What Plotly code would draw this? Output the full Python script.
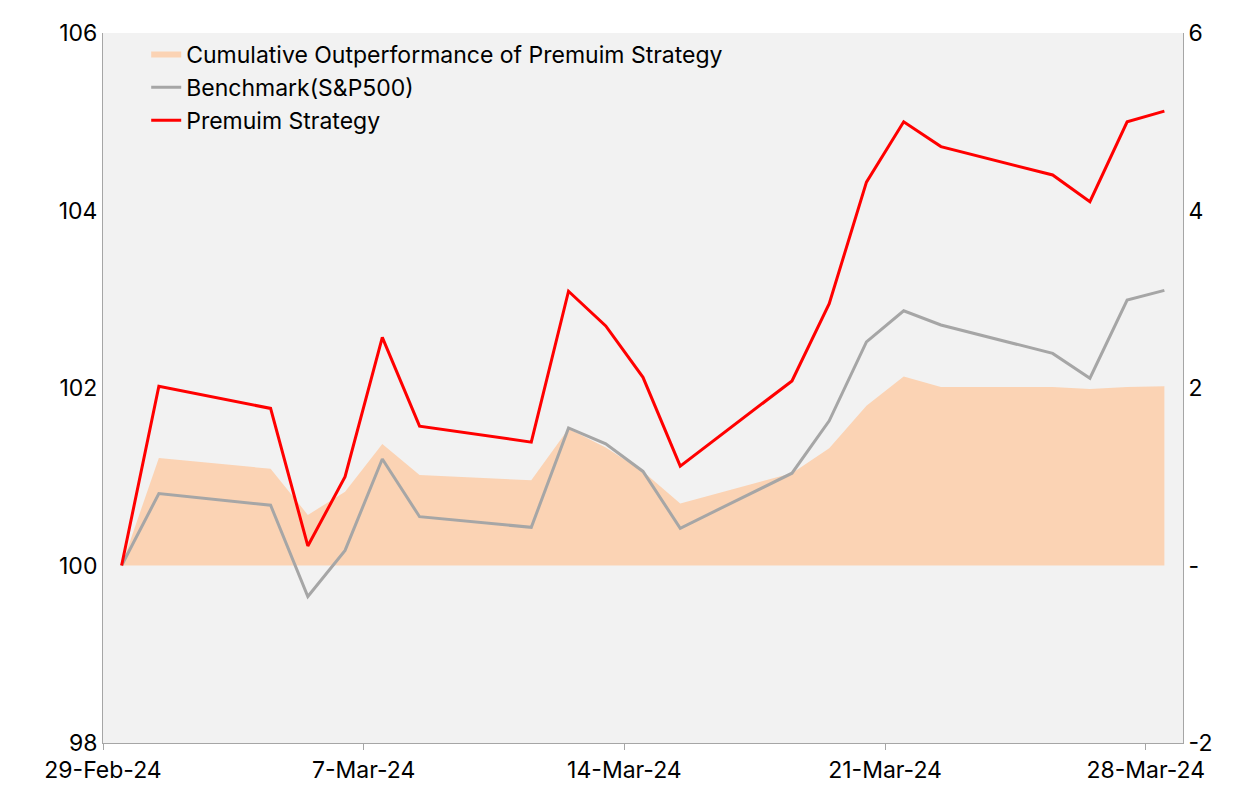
import plotly.graph_objs as go

dates = ['2024-02-29', '2024-03-01', '2024-03-04', '2024-03-05', '2024-03-06',
         '2024-03-07', '2024-03-08', '2024-03-11', '2024-03-12', '2024-03-13',
         '2024-03-14', '2024-03-15', '2024-03-18', '2024-03-19', '2024-03-20',
         '2024-03-21', '2024-03-22', '2024-03-25', '2024-03-26', '2024-03-27',
         '2024-03-28']
premium = [100.0, 102.02, 101.77, 100.22, 101.0, 102.57, 101.57, 101.39, 103.09, 102.70,
           102.12, 101.12, 102.08, 102.95, 104.32, 105.0, 104.72, 104.40, 104.10, 105.0, 105.12]
benchmark = [100.0, 100.81, 100.68, 99.65, 100.17, 101.2, 100.55, 100.43, 101.55, 101.37,
             101.06, 100.42, 101.04, 101.63, 102.52, 102.87, 102.71, 102.39, 102.11, 102.99, 103.10]
outperf = [0.0, 1.21, 1.09, 0.57, 0.83, 1.37, 1.02, 0.96, 1.54, 1.33,
           1.06, 0.70, 1.04, 1.32, 1.80, 2.13, 2.01, 2.01, 1.99, 2.01, 2.02]

tick_dates = ['2024-02-29', '2024-03-07', '2024-03-14', '2024-03-21', '2024-03-28']
tick_text = ['29-Feb-24', '7-Mar-24', '14-Mar-24', '21-Mar-24', '28-Mar-24']

# Excel date axis puts points mid-day
x = [d + ' 12:00' for d in dates]

fig = go.Figure()
# area on the base (right) axis so the lines on the overlaying axis sit on top
fig.add_trace(go.Scatter(x=x, y=outperf, yaxis='y', mode='none', fill='tozeroy',
                         fillcolor='#fbd3b4', name='Cumulative Outperformance of Premuim Strategy'))
fig.add_trace(go.Scatter(x=x, y=benchmark, yaxis='y2', mode='lines',
                         line=dict(color='#a6a6a6', width=3), name='Benchmark(S&P500)'))
fig.add_trace(go.Scatter(x=x, y=premium, yaxis='y2', mode='lines',
                         line=dict(color='#ff0000', width=3), name='Premuim Strategy'))

fig.update_layout(
    width=1251, height=804,
    margin=dict(l=95, r=76, t=25, b=69),
    paper_bgcolor='white', plot_bgcolor='#f2f2f2',
    font=dict(family='Inter', size=23, color='black'),
    showlegend=True,
    legend=dict(x=0.04, y=1.0, xanchor='left', yanchor='top', bgcolor='rgba(0,0,0,0)',
                font=dict(size=23), traceorder='normal', tracegroupgap=0),
    xaxis=dict(type='date', range=['2024-02-29', '2024-03-29'], tickvals=tick_dates,
               ticktext=tick_text, showgrid=False, showline=True, linecolor='#a6a6a6',
               ticks='outside', tickcolor='#a6a6a6', ticklen=6, zeroline=False),
    yaxis=dict(range=[-2, 6], side='right', tickvals=[-2, 0, 2, 4, 6],
               ticktext=['-2', '-', '2', '4', '6'], showgrid=False, showline=True,
               linecolor='#a6a6a6', zeroline=False),
    yaxis2=dict(range=[98, 106], overlaying='y', side='left', tickvals=[98, 100, 102, 104, 106],
                showgrid=False, showline=True, linecolor='#a6a6a6', zeroline=False),
)

fig.write_html("out.html")
